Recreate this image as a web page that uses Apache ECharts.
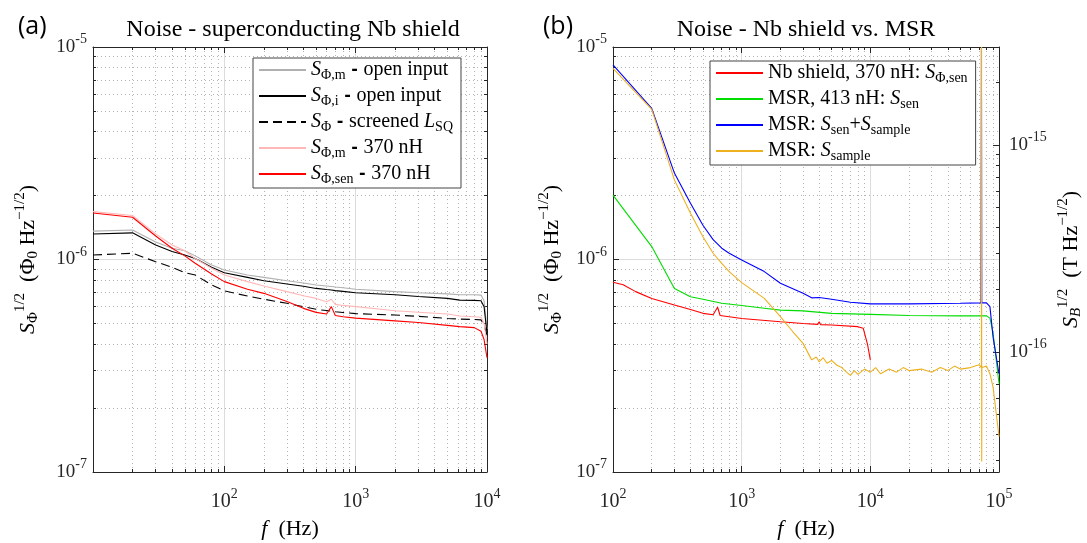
<!DOCTYPE html>
<html><head><meta charset="utf-8">
<script src="https://cdn.jsdelivr.net/npm/echarts@6/dist/echarts.min.js"></script>
<style>html,body{margin:0;padding:0;background:#fff}#c{width:1087px;height:543px}</style>
</head><body><div id="c"></div>
<script>
// ---------- Panel (a): noise, superconducting Nb shield (values in µΦ0/√Hz) ----------
const fA        = [10, 20, 30, 40, 50, 60, 80, 100, 150, 200, 300, 400, 500, 600, 653, 700, 800, 1000, 2000, 3000, 5000, 6200, 8000, 9000, 9500, 10000];
const grayA     = [1.36, 1.377, 1.21, 1.13, 1.10, 1.04, 0.942, 0.893, 0.845, 0.824, 0.794, 0.775, 0.759, 0.750, 0.746, 0.742, 0.736, 0.724, 0.706, 0.698, 0.689, 0.683, 0.682, 0.680, 0.640, 0.470];
const blackA    = [1.318, 1.335, 1.17, 1.09, 1.05, 1.01, 0.919, 0.867, 0.824, 0.794, 0.767, 0.748, 0.731, 0.722, 0.718, 0.714, 0.708, 0.698, 0.683, 0.670, 0.656, 0.644, 0.642, 0.640, 0.600, 0.450];
const dashedA   = [1.05, 1.07, 0.977, 0.919, 0.867, 0.845, 0.759, 0.712, 0.673, 0.650, 0.622, 0.600, 0.583, 0.575, 0.571, 0.568, 0.563, 0.556, 0.548, 0.540, 0.528, 0.524, 0.522, 0.520, 0.490, 0.440];
const pinkA     = [1.68, 1.61, 1.32, 1.17, 1.10, 1.01, 0.91, 0.845, 0.787, 0.750, 0.706, 0.675, 0.656, 0.633, 0.650, 0.615, 0.608, 0.600, 0.574, 0.565, 0.554, 0.542, 0.538, 0.535, 0.500, 0.400];
const redA      = [1.656, 1.58, 1.29, 1.13, 1.04, 0.96, 0.855, 0.787, 0.724, 0.693, 0.634, 0.589, 0.564, 0.554, 0.600, 0.545, 0.538, 0.530, 0.514, 0.505, 0.490, 0.483, 0.478, 0.460, 0.420, 0.345];

// ---------- Panel (b): Nb shield vs. MSR (values in µΦ0/√Hz) ----------
const fRedB     = [100, 120, 150, 200, 300, 400, 500, 600, 650, 680, 700, 1000, 2000, 3000, 3900, 4000, 4100, 5000, 8000, 8800, 9500, 10000];
const redB      = [0.782, 0.760, 0.706, 0.656, 0.611, 0.582, 0.558, 0.550, 0.596, 0.545, 0.540, 0.528, 0.509, 0.500, 0.495, 0.510, 0.494, 0.492, 0.483, 0.475, 0.400, 0.337];
const fGreenB   = [100, 200, 300, 400, 500, 700, 1000, 1500, 2000, 3000, 5000, 10000, 20000, 50000, 80000, 85000, 90000, 100000];
const greenB    = [2.01, 1.15, 0.731, 0.668, 0.650, 0.622, 0.607, 0.590, 0.578, 0.573, 0.558, 0.552, 0.545, 0.543, 0.543, 0.530, 0.450, 0.261];
const fBlueB    = [100, 200, 300, 400, 500, 600, 700, 800, 1000, 1500, 2000, 3000, 3500, 4000, 5000, 7000, 10000, 20000, 50000, 72500, 73000, 73500, 80000, 85000, 90000, 100000];
const blueB     = [8.23, 5.14, 2.55, 1.84, 1.45, 1.24, 1.13, 1.07, 0.995, 0.877, 0.773, 0.693, 0.660, 0.662, 0.650, 0.629, 0.618, 0.618, 0.622, 0.625, 10.0, 0.625, 0.625, 0.600, 0.430, 0.290];
const fOrangeB  = [100, 200, 300, 400, 500, 600, 700, 800, 1000, 1500, 2000, 2500, 3000, 3500, 3800, 4000, 4300, 4600, 5000, 5500, 6000, 6500, 7000, 7500, 8000, 9000, 10000, 11000, 12000, 14000, 16000, 18000, 20000, 25000, 30000, 35000, 40000, 45000, 50000, 60000, 70000, 73000, 73200, 73400, 73600, 80000, 85000, 90000, 95000, 100000];
const orangeB   = [7.94, 5.09, 2.37, 1.65, 1.28, 1.07, 0.96, 0.877, 0.778, 0.656, 0.538, 0.457, 0.403, 0.337, 0.348, 0.330, 0.345, 0.325, 0.335, 0.318, 0.310, 0.296, 0.285, 0.300, 0.288, 0.305, 0.295, 0.310, 0.290, 0.305, 0.295, 0.310, 0.300, 0.305, 0.295, 0.310, 0.300, 0.315, 0.305, 0.310, 0.320, 0.310, 10.0, 0.112, 0.310, 0.315, 0.290, 0.250, 0.190, 0.147];

// axis ranges / tick label exponents
const yRangeMicro = [0.1, 10];          // 1e-7 .. 1e-5 Φ0/√Hz
const xRangeA = [10, 10000];
const xRangeB = [100, 100000];
const bRangeFemto = [0.0263, 2.97];     // right axis in fT/√Hz

const serif = 'Liberation Serif';
const axisColor = '#262626';

function tok(size, extra) {
  return Object.assign({fontFamily: serif, fontSize: size, fontStyle: 'normal', fontWeight: 'normal', color: '#000'}, extra || {});
}
function tickRich(size) {
  return {
    b: tok(size, {color: axisColor}),
    s: tok(14, {color: axisColor, padding: [0, 0, 15, 0]})
  };
}
const nameRich = {
  n: tok(22),
  i: tok(22, {fontStyle: 'italic'}),
  sub: tok(15, {padding: [10, 0, 0, 0]}),
  subi: tok(15, {fontStyle: 'italic', padding: [10, 0, 0, 0]}),
  sup: tok(15, {padding: [0, 0, 15, 0]})
};
const legRich = {
  n: tok(20),
  i: tok(20, {fontStyle: 'italic'}),
  d: tok(16, {fontFamily: 'DejaVu Sans', fontWeight: 'bold'}),
  sub: tok(14, {padding: [10, 0, 0, 0]})
};

function expFmt(offset, skip) {
  return function (v) {
    const e = Math.log10(v), r = Math.round(e);
    if (Math.abs(e - r) > 1e-6) return '';
    if (skip && skip.indexOf(r) >= 0) return '';
    return '{b|10}{s|' + (r + offset) + '}';
  };
}

function logAxis(extra) {
  return Object.assign({
    type: 'log', logBase: 10,
    axisLine: {show: true, onZero: false, lineStyle: {color: axisColor, width: 1}},
    axisTick: {show: true, inside: true, length: 6, lineStyle: {color: axisColor}},
    minorTick: {show: true, splitNumber: 9, length: 3, lineStyle: {color: axisColor}},
    splitLine: {show: true, lineStyle: {color: '#dcdcdc', width: 1}},
    minorSplitLine: {show: true, lineStyle: {color: '#b4b4b4', width: 1, type: [1, 3]}},
    axisLabel: {show: true}
  }, extra);
}
function frameAxis(extra) {
  return Object.assign(logAxis({}), {splitLine: {show: false}, minorSplitLine: {show: false}, axisLabel: {show: false}}, extra);
}
function tickLabels(offset, skip, margin, size) {
  return {show: true, rich: tickRich(size), margin: margin, fontFamily: serif, fontSize: size, color: axisColor, formatter: expFmt(offset, skip)};
}
const nameStyle = {rich: nameRich, fontFamily: serif, fontSize: 22, color: '#000'};
const yName = '{i|S}{sub|Φ}{sup|1/2}{n|  (Φ}{sub|0}{n| Hz}{sup|−1/2}{n|)}';
const bName = '{i|S}{subi|B}{sup|1/2}{n|  (T Hz}{sup|−1/2}{n|)}';
const xName = '{i|f}{n|  (Hz)}';

const pairs = (xs, ys) => xs.map((x, i) => [x, ys[i]]);
function line(name, xi, yi, data, color, type, width) {
  return {name: name, type: 'line', xAxisIndex: xi, yAxisIndex: yi, data: data, symbol: 'none', showSymbol: false,
          lineStyle: {color: color, width: width || 1.1, type: type || 'solid'}, itemStyle: {color: color},
          animation: false, clip: true, z: 2};
}

const legendLabels = {
  gA: '{i|S}{sub|Φ,m}{d| - }{n|open input}',
  kA: '{i|S}{sub|Φ,i}{d| - }{n|open input}',
  dA: '{i|S}{sub|Φ}{d| - }{n|screened }{i|L}{sub|SQ}',
  pA: '{i|S}{sub|Φ,m}{d| - }{n|370 nH}',
  rA: '{i|S}{sub|Φ,sen}{d| - }{n|370 nH}',
  rB: '{n|Nb shield, 370 nH: }{i|S}{sub|Φ,sen}',
  gB: '{n|MSR, 413 nH: }{i|S}{sub|sen}',
  bB: '{n|MSR: }{i|S}{sub|sen}{n|+}{i|S}{sub|sample}',
  oB: '{n|MSR: }{i|S}{sub|sample}'
};
const legendCommon = {
  orient: 'vertical', itemWidth: 47, itemHeight: 14, itemGap: 4,
  padding: [2, 8, 2, 5], backgroundColor: '#fff', borderColor: '#444', borderWidth: 1,
  itemStyle: {opacity: 0},
  formatter: n => legendLabels[n],
  textStyle: {rich: legRich, fontFamily: serif, fontSize: 20, color: '#000'}
};

const chart = echarts.init(document.getElementById('c'), null, {renderer: 'canvas'});
chart.setOption({
  backgroundColor: '#fff',
  animation: false,
  textStyle: {fontFamily: serif},
  title: [
    {text: '(a)', left: 13, top: 9, textStyle: {fontFamily: 'Open Sans', fontSize: 25, fontWeight: 'normal', color: '#000'}},
    {text: '(b)', left: 538, top: 9, textStyle: {fontFamily: 'Open Sans', fontSize: 25, fontWeight: 'normal', color: '#000'}}
  ],
  graphic: [
    {type: 'text', x: 293, y: 18, style: {text: 'Noise - superconducting Nb shield', font: '24px "Liberation Serif"', fill: '#000', textAlign: 'center'}},
    {type: 'text', x: 806, y: 18, style: {text: 'Noise - Nb shield vs. MSR', font: '24px "Liberation Serif"', fill: '#000', textAlign: 'center'}}
  ],
  grid: [
    {left: 93, right: 600, top: 47, bottom: 71, outerBoundsMode: 'none', containLabel: false},
    {left: 613, right: 88, top: 47, bottom: 71, outerBoundsMode: 'none', containLabel: false}
  ],
  xAxis: [
    logAxis({gridIndex: 0, min: xRangeA[0], max: xRangeA[1], position: 'bottom',
      axisLabel: tickLabels(0, [1], 15, 20),
      name: xName, nameLocation: 'middle', nameGap: 46, nameTextStyle: nameStyle}),
    frameAxis({gridIndex: 0, min: xRangeA[0], max: xRangeA[1], position: 'top'}),
    logAxis({gridIndex: 1, min: xRangeB[0], max: xRangeB[1], position: 'bottom',
      axisLabel: tickLabels(0, null, 15, 20),
      name: xName, nameLocation: 'middle', nameGap: 46, nameTextStyle: nameStyle}),
    frameAxis({gridIndex: 1, min: xRangeB[0], max: xRangeB[1], position: 'top'})
  ],
  yAxis: [
    logAxis({gridIndex: 0, min: yRangeMicro[0], max: yRangeMicro[1], position: 'left',
      axisLabel: tickLabels(-6, null, 6, 19),
      name: yName, nameLocation: 'middle', nameRotate: 90, nameGap: 50, nameTextStyle: nameStyle}),
    frameAxis({gridIndex: 0, min: yRangeMicro[0], max: yRangeMicro[1], position: 'right'}),
    logAxis({gridIndex: 1, min: yRangeMicro[0], max: yRangeMicro[1], position: 'left',
      axisLabel: tickLabels(-6, null, 6, 19),
      name: yName, nameLocation: 'middle', nameRotate: 90, nameGap: 46, nameTextStyle: nameStyle}),
    frameAxis({gridIndex: 1, min: bRangeFemto[0], max: bRangeFemto[1], position: 'right',
      axisLabel: tickLabels(-15, null, 10, 19),
      name: bName, nameLocation: 'middle', nameRotate: 90, nameGap: 57, nameTextStyle: nameStyle})
  ],
  legend: [
    Object.assign({data: ['gA', 'kA', 'dA', 'pA', 'rA'], left: 253, top: 58}, legendCommon),
    Object.assign({data: ['rB', 'gB', 'bB', 'oB'], left: 710, top: 61}, legendCommon)
  ],
  series: [
    line('gA', 0, 0, pairs(fA, grayA), '#b0b0b0'),
    line('kA', 0, 0, pairs(fA, blackA), '#000000'),
    line('dA', 0, 0, pairs(fA, dashedA), '#000000', [9, 5]),
    line('pA', 0, 0, pairs(fA, pinkA), '#ffb8b8'),
    line('rA', 0, 0, pairs(fA, redA), '#ff0000'),
    line('rB', 2, 2, pairs(fRedB, redB), '#ff0000'),
    line('gB', 2, 2, pairs(fGreenB, greenB), '#00dd00'),
    line('bB', 2, 2, pairs(fBlueB, blueB), '#0000ff'),
    line('oB', 2, 2, pairs(fOrangeB, orangeB), '#edb120')
  ]
});
</script>
</body></html>
